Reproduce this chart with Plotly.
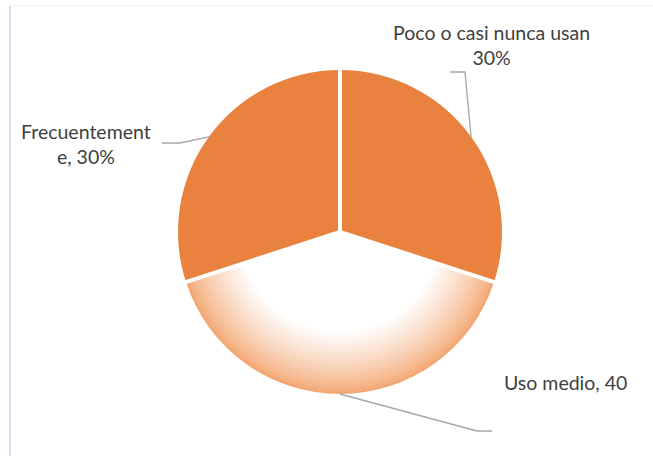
import math
import plotly.graph_objects as go

# ---- data ----
categories = ["Poco o casi nunca usan", "Uso medio", "Frecuentemente"]
values = [30, 40, 30]
label_texts = ["Poco o casi nunca usan<br>30%", "Uso medio, 40", "Frecuentement<br>e, 30%"]

# ---- layout geometry (pixels) ----
W, H = 653, 456
CX, CY, R = 340, 232, 162

ORANGE = "#E9823E"
EDGE = (0xF3, 0xA8, 0x74)
N_LAYERS = 22
INNER_FRAC = 0.62  # where the radial gradient becomes white

def lerp(a, b, t):
    return tuple(round(a[i] + (b[i] - a[i]) * t) for i in range(3))

def dom(r):
    return dict(x=[(CX - r) / W, (CX + r) / W],
                y=[(H - CY - r) / H, (H - CY + r) / H])

fig = go.Figure()
for i in range(N_LAYERS + 1):
    t = i / N_LAYERS
    f = 1 - (1 - INNER_FRAC) * t
    c = lerp(EDGE, (255, 255, 255), t ** 0.8)
    col = "rgb(%d,%d,%d)" % c
    cols = [ORANGE, col, ORANGE] if i == 0 else ["rgba(0,0,0,0)", col, "rgba(0,0,0,0)"]
    fig.add_trace(go.Pie(
        labels=categories, values=values, sort=False, direction="clockwise",
        rotation=0, textinfo="none", hoverinfo="label+percent",
        marker=dict(colors=cols, line=dict(width=0)),
        domain=dom(R * f), showlegend=False,
    ))

total = sum(values)
shapes = []
# white separators between slices
cum = 0
for v in values:
    ang = 2 * math.pi * cum / total
    x1 = CX + (R + 2) * math.sin(ang)
    y1 = CY - (R + 2) * math.cos(ang)
    shapes.append(dict(type="line", xref="paper", yref="paper",
                       x0=CX / W, y0=1 - CY / H, x1=x1 / W, y1=1 - y1 / H,
                       line=dict(color="white", width=4), layer="above"))
    cum += v

# leader lines: start on the rim at each slice's mid-angle
elbows = [[(465, 72), (450, 72)], [(477, 431), (492, 431)], [(180, 143), (162, 143)]]
cum = 0
for v, pts in zip(values, elbows):
    mid = 2 * math.pi * (cum + v / 2) / total
    sx = CX + R * math.sin(mid)
    sy = CY - R * math.cos(mid)
    path = f"M {sx/W},{1-sy/H}" + "".join(f" L {px/W},{1-py/H}" for px, py in pts)
    shapes.append(dict(type="path", xref="paper", yref="paper", path=path,
                       line=dict(color="#A6A6A6", width=1.3), layer="above"))
    cum += v

# page border line at left and faint top line
shapes.append(dict(type="line", xref="paper", yref="paper", x0=10 / W, x1=10 / W,
                   y0=0, y1=1 - 6 / H, line=dict(color="#C2D1EE", width=1.5)))
shapes.append(dict(type="line", xref="paper", yref="paper", x0=10 / W, x1=1,
                   y0=1 - 6 / H, y1=1 - 6 / H, line=dict(color="#F0F0F0", width=1)))

label_pos = [(491, 45), (565, 382), (86, 144)]
annotations = []
for t, (px, py) in zip(label_texts, label_pos):
    annotations.append(dict(text=t, x=px / W, y=1 - py / H, xref="paper", yref="paper",
                            showarrow=False, xanchor="center", yanchor="middle",
                            font=dict(family="Lato", size=19.5, color="#404040")))

fig.update_layout(width=W, height=H, margin=dict(l=0, r=0, t=0, b=0),
                  paper_bgcolor="white", plot_bgcolor="white",
                  shapes=shapes, annotations=annotations)
fig.write_html("out.html")
